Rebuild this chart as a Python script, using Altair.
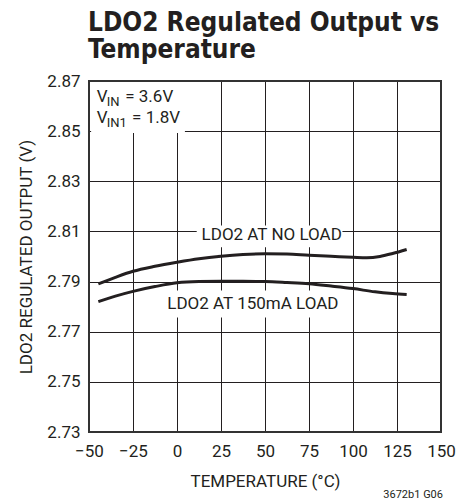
import altair as alt
import pandas as pd

# ---- data ----
temp_noload = [-44.7, -35, -25, -12.5, 0, 12.5, 25, 37.5, 50, 62.5, 75, 87.5, 100, 107.8, 115.3, 122.5, 130.5]
vout_noload = [2.7891, 2.7917, 2.7941, 2.7961, 2.7977, 2.7991, 2.8001, 2.8008, 2.8011, 2.8010, 2.8005, 2.8001, 2.7997, 2.7995, 2.8000, 2.8012, 2.8028]

temp_150ma = [-44.7, -35, -25, -12.5, 0, 12.5, 25, 37.5, 50, 62.5, 75, 87.5, 100, 112.5, 122.5, 130.5]
vout_150ma = [2.7820, 2.7842, 2.7861, 2.7880, 2.7895, 2.7900, 2.7901, 2.7901, 2.7900, 2.7896, 2.7891, 2.7882, 2.7872, 2.7859, 2.7852, 2.7848]

x_ticks = [-50, -25, 0, 25, 50, 75, 100, 125, 150]
y_ticks = [2.73, 2.75, 2.77, 2.79, 2.81, 2.83, 2.85, 2.87]

title_lines = ["LDO2 Regulated Output vs", "Temperature"]

curve_labels = ["LDO2 AT NO LOAD", "LDO2 AT 150mA LOAD"]
curve_label_x = [53.8, 43.1]
curve_label_y = [2.8084, 2.7811]

# white boxes behind labels (x, x2, y, y2)
box_x = [11.2, -6.0, -48.8]
box_x2 = [94.0, 92.0, 4.5]
box_y = [2.8037, 2.7757, 2.8493]
box_y2 = [2.8124, 2.7864, 2.8700]

# condition note pieces: text, x, y, size
note_text = ["V", "IN", "= 3.6V", "V", "IN1", "= 1.8V"]
note_x = [-45.6, -39.9, -29.4, -45.6, -39.9, -25.5]
note_y = [2.8617, 2.8600, 2.8617, 2.8531, 2.8516, 2.8531]
note_size = [17, 13, 17, 17, 13, 17]

W, H = 352, 351
INK = "#231f20"
FONT = "Roboto"
TFONT = "Liberation Sans Narrow, DejaVu Sans Condensed, Roboto"

df = pd.concat([
    pd.DataFrame({"t": temp_noload, "v": vout_noload, "s": "noload"}),
    pd.DataFrame({"t": temp_150ma, "v": vout_150ma, "s": "150ma"}),
])
boxes = pd.DataFrame({"x": box_x, "x2": box_x2, "y": box_y, "y2": box_y2})
labels = pd.DataFrame({"text": curve_labels, "x": curve_label_x, "y": curve_label_y})
notes = pd.DataFrame({"text": note_text, "x": note_x, "y": note_y, "size": note_size})

xscale = alt.Scale(domain=[-50, 150], nice=False, zero=False)
yscale = alt.Scale(domain=[2.73, 2.87], nice=False, zero=False)

xaxis = alt.Axis(values=x_ticks, title="TEMPERATURE (°C)", grid=True, ticks=False,
                 domain=False, labelPadding=11, titlePadding=14, labelFlush=False)
yaxis = alt.Axis(values=y_ticks, format=".2f", title="LDO2 REGULATED OUTPUT (V)", grid=True,
                 ticks=False, domain=False, labelPadding=9, titlePadding=11, labelFlush=False)

lines = alt.Chart(df).mark_line(color=INK, strokeWidth=3, interpolate="monotone").encode(
    x=alt.X("t:Q", scale=xscale, axis=xaxis),
    y=alt.Y("v:Q", scale=yscale, axis=yaxis),
    detail="s:N",
)

rects = alt.Chart(boxes).mark_rect(color="white").encode(
    x=alt.X("x:Q", scale=xscale), x2="x2:Q",
    y=alt.Y("y:Q", scale=yscale), y2="y2:Q",
)

label_text = alt.Chart(labels).mark_text(font=FONT, fontSize=17, color=INK, align="center",
                                         baseline="middle").encode(
    x=alt.X("x:Q", scale=xscale), y=alt.Y("y:Q", scale=yscale), text="text:N")

note_marks = alt.Chart(notes).mark_text(font=FONT, color=INK, align="left",
                                        baseline="alphabetic").encode(
    x=alt.X("x:Q", scale=xscale), y=alt.Y("y:Q", scale=yscale), text="text:N",
    size=alt.Size("size:Q", scale=None, legend=None),
)

frame = alt.Chart(pd.DataFrame({"a": [0]})).mark_rect(fill=None, filled=False, stroke="#333333",
                                                      strokeWidth=2).encode(
    x=alt.value(0), x2=alt.value(W), y=alt.value(0), y2=alt.value(H))

foot = alt.Chart(pd.DataFrame({"text": ["3672b1 G06"]})).mark_text(
    font=FONT, fontSize=11, color=INK, align="right", baseline="alphabetic").encode(
    x=alt.value(354), y=alt.value(417), text="text:N")


def title_line(txt, ypix):
    return alt.Chart(pd.DataFrame({"text": [txt]})).mark_text(
        font=TFONT, fontSize=26, fontWeight="bold", color=INK, align="left",
        baseline="alphabetic").encode(x=alt.value(-1), y=alt.value(ypix), text="text:N")


t1 = title_line(title_lines[0], -50.5)
t2 = title_line(title_lines[1], -23)

chart = alt.layer(rects, lines, label_text, note_marks, frame, foot, t1, t2).properties(
    width=W, height=H,
    autosize=alt.AutoSizeParams(type="none"),
    padding={"left": 81, "top": 73, "right": 19, "bottom": 72},
).configure_view(stroke=None).configure_axis(
    labelFont=FONT, titleFont=FONT, labelFontSize=17, titleFontSize=17,
    labelColor=INK, titleColor=INK, titleFontWeight="normal",
    gridColor=INK, gridOpacity=1, gridWidth=1,
)

chart.save("out.html", embed_options={"renderer": "svg", "actions": False})
